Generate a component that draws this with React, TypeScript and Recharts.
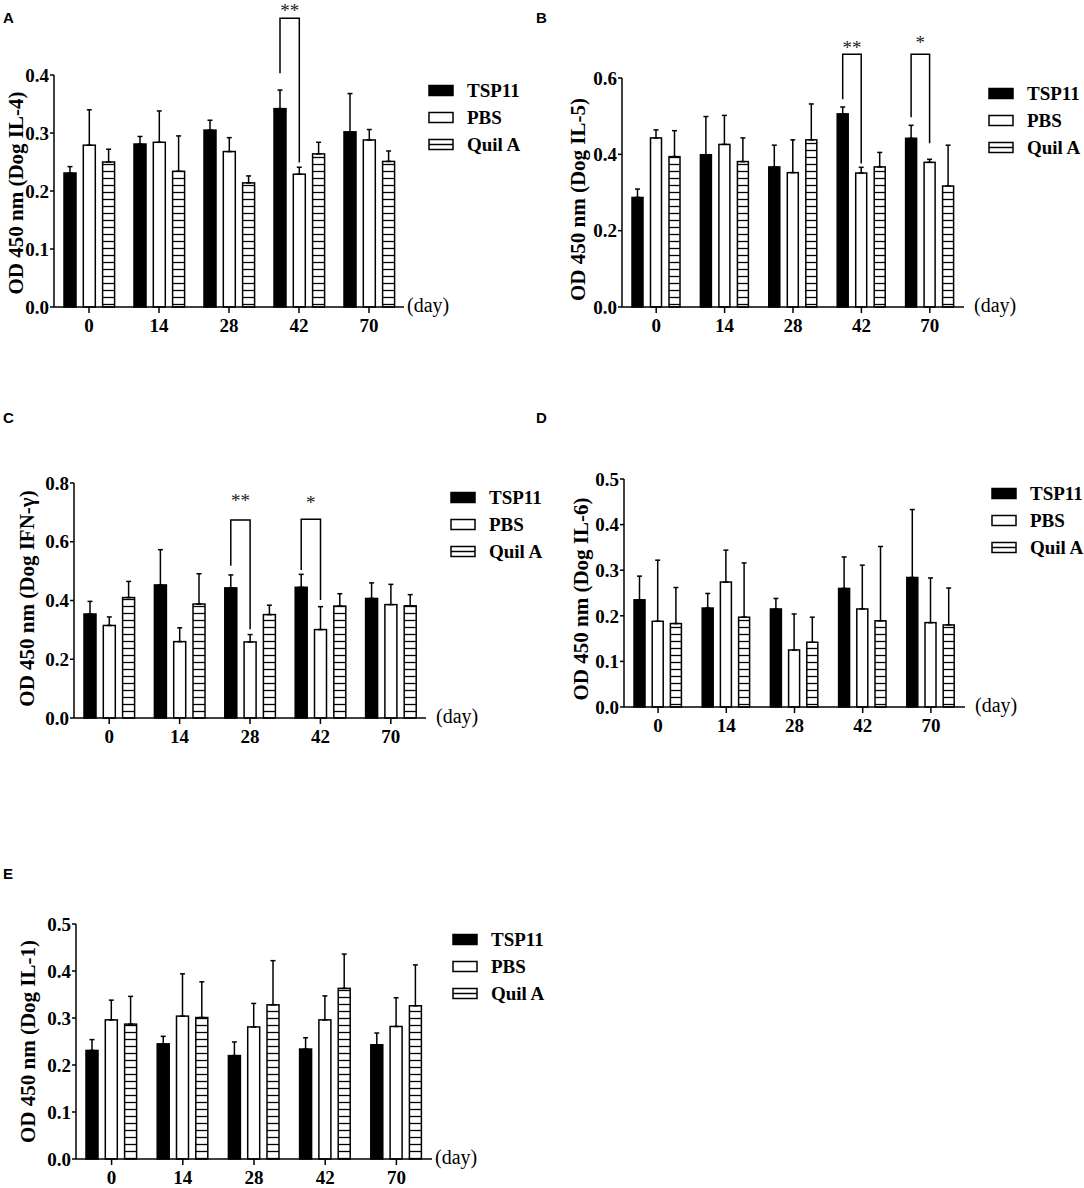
import React from 'react';
import { BarChart, Bar, XAxis, YAxis, ErrorBar, Legend, Label } from 'recharts';

const SERIF = '"Liberation Serif", "Times New Roman", Times, serif';
const SANS = '"Liberation Sans", Arial, Helvetica, sans-serif';

const days = ['0', '14', '28', '42', '70'];

// A - IL-4
const il4Tsp = [0.231, 0.281, 0.305, 0.342, 0.302];
const il4TspErr = [0.011, 0.013, 0.017, 0.032, 0.066];
const il4Pbs = [0.279, 0.284, 0.268, 0.229, 0.288];
const il4PbsErr = [0.061, 0.054, 0.024, 0.012, 0.018];
const il4Quil = [0.25, 0.234, 0.214, 0.264, 0.251];
const il4QuilErr = [0.022, 0.061, 0.012, 0.02, 0.018];
const il4Ticks = [0, 0.1, 0.2, 0.3, 0.4];

// B - IL-5
const il5Tsp = [0.287, 0.399, 0.367, 0.506, 0.442];
const il5TspErr = [0.022, 0.1, 0.057, 0.018, 0.034];
const il5Pbs = [0.443, 0.426, 0.352, 0.351, 0.379];
const il5PbsErr = [0.021, 0.076, 0.086, 0.015, 0.008];
const il5Quil = [0.394, 0.381, 0.438, 0.367, 0.317];
const il5QuilErr = [0.068, 0.062, 0.094, 0.038, 0.107];
const il5Ticks = [0, 0.2, 0.4, 0.6];

// C - IFN-γ
const ifnTsp = [0.354, 0.453, 0.443, 0.445, 0.407];
const ifnTspErr = [0.043, 0.12, 0.044, 0.044, 0.053];
const ifnPbs = [0.315, 0.26, 0.259, 0.301, 0.386];
const ifnPbsErr = [0.029, 0.047, 0.025, 0.078, 0.069];
const ifnQuil = [0.41, 0.388, 0.352, 0.381, 0.382];
const ifnQuilErr = [0.055, 0.103, 0.032, 0.042, 0.038];
const ifnTicks = [0, 0.2, 0.4, 0.6, 0.8];

// D - IL-6
const il6Tsp = [0.235, 0.217, 0.215, 0.26, 0.284];
const il6TspErr = [0.052, 0.032, 0.023, 0.069, 0.149];
const il6Pbs = [0.188, 0.274, 0.125, 0.215, 0.185];
const il6PbsErr = [0.134, 0.07, 0.079, 0.096, 0.098];
const il6Quil = [0.183, 0.197, 0.142, 0.189, 0.18];
const il6QuilErr = [0.079, 0.119, 0.055, 0.163, 0.081];
const il6Ticks = [0, 0.1, 0.2, 0.3, 0.4, 0.5];

// E - IL-1
const il1Tsp = [0.231, 0.245, 0.22, 0.234, 0.243];
const il1TspErr = [0.023, 0.016, 0.029, 0.024, 0.025];
const il1Pbs = [0.296, 0.304, 0.281, 0.296, 0.282];
const il1PbsErr = [0.042, 0.09, 0.05, 0.051, 0.061];
const il1Quil = [0.287, 0.301, 0.328, 0.363, 0.326];
const il1QuilErr = [0.059, 0.076, 0.094, 0.073, 0.087];
const il1Ticks = [0, 0.1, 0.2, 0.3, 0.4, 0.5];

type Bracket = { day: string; top: number; left: number; right: number; mark: string; markAt: number };

const il4Brackets: Bracket[] = [
  { day: '42', top: 0.498, left: 0.403, right: 0.249, mark: '**', markAt: 0.515 },
];
const il5Brackets: Bracket[] = [
  { day: '42', top: 0.662, left: 0.544, right: 0.376, mark: '**', markAt: 0.686 },
  { day: '70', top: 0.662, left: 0.497, right: 0.429, mark: '*', markAt: 0.7 },
];
const ifnBrackets: Bracket[] = [
  { day: '28', top: 0.674, left: 0.518, right: 0.302, mark: '**', markAt: 0.748 },
  { day: '42', top: 0.677, left: 0.504, right: 0.402, mark: '*', markAt: 0.742 },
];

function buildRows(tsp: number[], tspErr: number[], pbs: number[], pbsErr: number[], quil: number[], quilErr: number[]) {
  return days.map((day, i) => ({
    day,
    tsp: tsp[i],
    pbs: pbs[i],
    quil: quil[i],
    tspErr: [0, tspErr[i]],
    pbsErr: [0, pbsErr[i]],
    quilErr: [0, quilErr[i]],
  }));
}

const panels = [
  {
    id: 'a', yLabel: 'OD 450 nm (Dog IL-4)', ticks: il4Ticks, brackets: il4Brackets,
    rows: buildRows(il4Tsp, il4TspErr, il4Pbs, il4PbsErr, il4Quil, il4QuilErr),
    box: { left: 0, top: 0, width: 540, height: 380 },
    plot: { left: 54, top: 75, right: 404, bottom: 307 },
    barSize: 12, barGap: 7.3, dayGap: 3, labelGap: 38, labelDy: 2,
    legend: { x: 429, y: 91 },
  },
  {
    id: 'b', yLabel: 'OD 450 nm (Dog IL-5)', ticks: il5Ticks, brackets: il5Brackets,
    rows: buildRows(il5Tsp, il5TspErr, il5Pbs, il5PbsErr, il5Quil, il5QuilErr),
    box: { left: 540, top: 0, width: 544, height: 380 },
    plot: { left: 622, top: 78, right: 964, bottom: 307 },
    barSize: 11, barGap: 7.5, dayGap: 10, labelGap: 44, labelDy: 7,
    legend: { x: 989, y: 94 },
  },
  {
    id: 'c', yLabel: 'OD 450 nm (Dog IFN-γ)', ticks: ifnTicks, brackets: ifnBrackets,
    rows: buildRows(ifnTsp, ifnTspErr, ifnPbs, ifnPbsErr, ifnQuil, ifnQuilErr),
    box: { left: 0, top: 400, width: 540, height: 380 },
    plot: { left: 74, top: 483, right: 426, bottom: 718 },
    barSize: 12, barGap: 7.3, dayGap: 10, labelGap: 47, labelDy: -2,
    legend: { x: 451, y: 498 },
  },
  {
    id: 'd', yLabel: 'OD 450 nm (Dog IL-6)', ticks: il6Ticks, brackets: [] as Bracket[],
    rows: buildRows(il6Tsp, il6TspErr, il6Pbs, il6PbsErr, il6Quil, il6QuilErr),
    box: { left: 540, top: 400, width: 544, height: 380 },
    plot: { left: 624, top: 479, right: 965, bottom: 707 },
    barSize: 11, barGap: 7.2, dayGap: 10, labelGap: 43, labelDy: 6,
    legend: { x: 992, y: 494 },
  },
  {
    id: 'e', yLabel: 'OD 450 nm (Dog IL-1)', ticks: il1Ticks, brackets: [] as Bracket[],
    rows: buildRows(il1Tsp, il1TspErr, il1Pbs, il1PbsErr, il1Quil, il1QuilErr),
    box: { left: 0, top: 840, width: 540, height: 348 },
    plot: { left: 76, top: 924, right: 432, bottom: 1159 },
    barSize: 12, barGap: 7.3, dayGap: 3, labelGap: 48, labelDy: 0,
    legend: { x: 453, y: 940 },
  },
];

const letters = [
  { t: 'A', x: 3, y: 23 },
  { t: 'B', x: 536, y: 23 },
  { t: 'C', x: 3, y: 423 },
  { t: 'D', x: 536, y: 423 },
  { t: 'E', x: 3, y: 879 },
];

const AXIS = { stroke: '#000', strokeWidth: 1.5 };
const TICK = { fill: '#000', fontSize: 19, fontWeight: 700, fontFamily: SERIF };
const Y_AXIS_W = 45;
const X_AXIS_H = 30;
const ROW_H = 26.7;

function makeShape(kind: 'tsp' | 'pbs' | 'quil', pid: string, brackets: Bracket[], stride: number) {
  return (props: any) => {
    const { x, y, width, height, payload } = props;
    const fill = kind === 'tsp' ? '#000' : kind === 'pbs' ? '#fff' : `url(#${pid})`;
    const rect = <rect x={x} y={y} width={width} height={height} fill={fill} stroke="#000" strokeWidth={1.5} />;
    const b = kind === 'tsp' ? brackets.find((br) => br.day === payload.day) : undefined;
    if (!b) return rect;
    // pixel position from the bar's own scale
    const base = y + height;
    const perUnit = height / payload.tsp;
    const py = (v: number) => base - v * perUnit;
    const x1 = x + width / 2;
    const x2 = x1 + stride;
    return (
      <g>
        {rect}
        <polyline
          points={`${x1},${py(b.left)} ${x1},${py(b.top)} ${x2},${py(b.top)} ${x2},${py(b.right)}`}
          fill="none"
          stroke="#000"
          strokeWidth={1.5}
        />
        <text x={(x1 + x2) / 2} y={py(b.markAt) + 9} textAnchor="middle" fontFamily={SERIF} fontSize={19} fill="#222">
          {b.mark}
        </text>
      </g>
    );
  };
}

function LegendBody() {
  const items = ['TSP11', 'PBS', 'Quil A'];
  return (
    <div style={{ fontFamily: SERIF, fontWeight: 700, fontSize: 19, color: '#000', textAlign: 'left' }}>
      {items.map((name, i) => (
        <div key={name} style={{ display: 'flex', alignItems: 'center', height: ROW_H }}>
          <svg width={27} height={13} style={{ display: 'block' }}>
            <rect x={1} y={1.5} width={24} height={10} fill={i === 0 ? '#000' : '#fff'} stroke="#000" strokeWidth={1.5} />
            {i === 2 && <line x1={1} y1={6.5} x2={25} y2={6.5} stroke="#000" strokeWidth={1.5} />}
          </svg>
          <span style={{ marginLeft: 12, lineHeight: 1 }}>{name}</span>
        </div>
      ))}
    </div>
  );
}

function Panel({ p }: { p: (typeof panels)[number] }) {
  const { box, plot } = p;
  const margin = {
    top: plot.top - box.top,
    left: plot.left - box.left - Y_AXIS_W,
    right: box.left + box.width - plot.right,
    bottom: box.top + box.height - plot.bottom - X_AXIS_H,
  };
  const pid = `stripes-${p.id}`;
  const stride = p.barSize + p.barGap;
  const max = p.ticks[p.ticks.length - 1];

  return (
    <div style={{ position: 'absolute', left: box.left, top: box.top }}>
      <BarChart
        width={box.width}
        height={box.height}
        data={p.rows}
        margin={margin}
        barSize={p.barSize}
        barGap={p.barGap}
      >
        <defs>
          <pattern id={pid} patternUnits="userSpaceOnUse" width={8} height={7}>
            <rect width={8} height={7} fill="#fff" />
            <line x1={0} y1={3.5} x2={8} y2={3.5} stroke="#000" strokeWidth={1.3} />
          </pattern>
        </defs>
        <XAxis
          dataKey="day"
          interval={0}
          height={X_AXIS_H}
          tickSize={6}
          tickMargin={6}
          axisLine={AXIS}
          tickLine={AXIS}
          tick={TICK}
        >
          <Label
            content={(lp: any) => {
              const vb = lp.viewBox;
              if (!vb) return null;
              return (
                <text x={vb.x + vb.width + p.dayGap} y={vb.y + 5} fontFamily={SERIF} fontSize={20} fill="#000">
                  (day)
                </text>
              );
            }}
          />
        </XAxis>
        <YAxis
          width={Y_AXIS_W}
          domain={[0, max]}
          ticks={p.ticks}
          interval={0}
          tickFormatter={(v: number) => v.toFixed(1)}
          tickSize={4}
          tickMargin={1}
          axisLine={AXIS}
          tickLine={AXIS}
          tick={TICK}
        >
          <Label
            content={(lp: any) => {
              const vb = lp.viewBox;
              if (!vb) return null;
              const cx = vb.x + vb.width - p.labelGap;
              const cy = vb.y + vb.height / 2 + p.labelDy;
              return (
                <text
                  x={cx}
                  y={cy}
                  transform={`rotate(-90, ${cx}, ${cy})`}
                  textAnchor="middle"
                  dominantBaseline="central"
                  fontFamily={SERIF}
                  fontWeight={700}
                  fontSize={21}
                  fill="#000"
                >
                  {p.yLabel}
                </text>
              );
            }}
          />
        </YAxis>
        <Legend
          layout="horizontal"
          align="center"
          verticalAlign="middle"
          wrapperStyle={{ left: p.legend.x - 1 - box.left, top: p.legend.y - ROW_H / 2 - box.top, width: 150, height: 'auto' }}
          content={() => <LegendBody />}
        />
        <Bar dataKey="tsp" name="TSP11" isAnimationActive={false} shape={makeShape('tsp', pid, p.brackets, stride)}>
          <ErrorBar dataKey="tspErr" direction="y" width={2.5} stroke="#000" strokeWidth={1.5} isAnimationActive={false} />
        </Bar>
        <Bar dataKey="pbs" name="PBS" isAnimationActive={false} shape={makeShape('pbs', pid, p.brackets, stride)}>
          <ErrorBar dataKey="pbsErr" direction="y" width={2.5} stroke="#000" strokeWidth={1.5} isAnimationActive={false} />
        </Bar>
        <Bar dataKey="quil" name="Quil A" isAnimationActive={false} shape={makeShape('quil', pid, p.brackets, stride)}>
          <ErrorBar dataKey="quilErr" direction="y" width={2.5} stroke="#000" strokeWidth={1.5} isAnimationActive={false} />
        </Bar>
      </BarChart>
    </div>
  );
}

export default function App() {
  return (
    <div style={{ position: 'absolute', left: 0, top: 0, width: 1084, height: 1188, background: '#fff', overflow: 'hidden' }}>
      {panels.map((p) => (
        <Panel key={p.id} p={p} />
      ))}
      <svg width={1084} height={1188} style={{ position: 'absolute', left: 0, top: 0, pointerEvents: 'none' }}>
        {letters.map((l) => (
          <text key={l.t} x={l.x} y={l.y} fontFamily={SANS} fontWeight={700} fontSize={15} fill="#000">
            {l.t}
          </text>
        ))}
      </svg>
    </div>
  );
}
